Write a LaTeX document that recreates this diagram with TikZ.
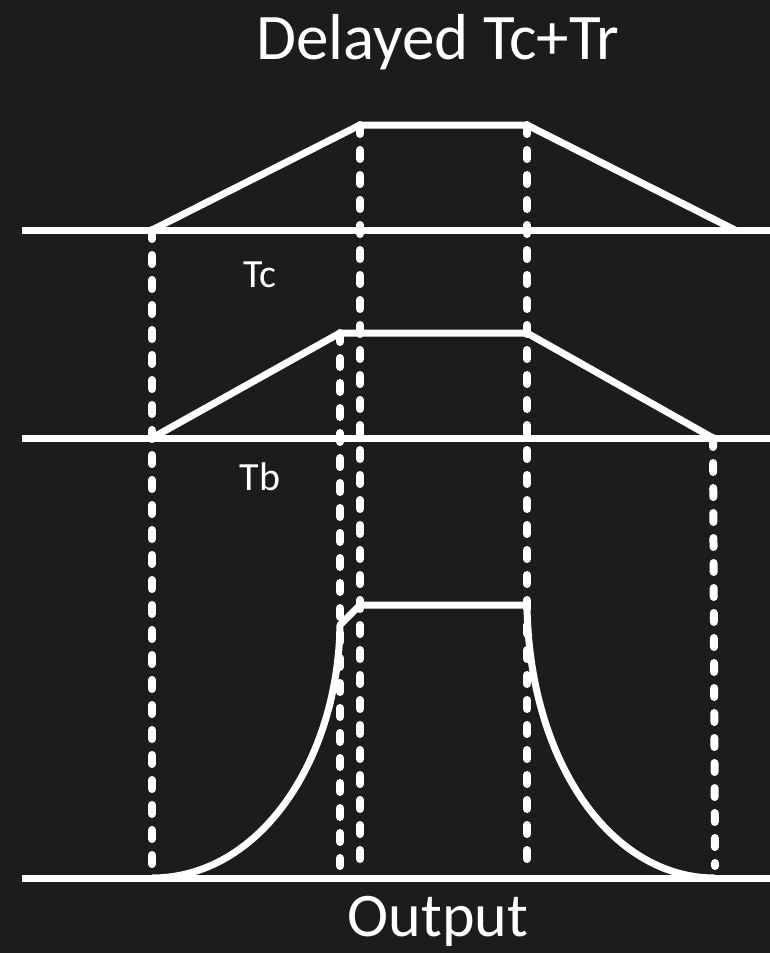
\documentclass[tikz,border=0pt]{standalone}
\usepackage{fontspec}
\setmainfont{Carlito}
\usetikzlibrary{positioning, calc}
\definecolor{chalkBoard}{RGB}{28, 28, 28}
\definecolor{chalkWhite}{RGB}{255, 255, 255}

\begin{document}
\begin{tikzpicture}[x=1pt, y=-1pt,
        axis/.style={line width=7pt, chalkWhite},
        wave/.style={line width=7pt, chalkWhite, line join=round},
        guide/.style={line width=8pt, chalkWhite, line cap=round, dash pattern=on 9pt off 16pt},
        lbl/.style={text=chalkWhite, inner sep=0pt, anchor=base}
      ]
        \fill[chalkBoard] (0,0) rectangle (770,953);
        \useasboundingbox (0,0) rectangle (770,953);

        \coordinate (topL) at (22,230);    \coordinate (topR) at (770,230);
        \coordinate (midL) at (22,438);    \coordinate (midR) at (770,438);
        \coordinate (botL) at (22,878);    \coordinate (botR) at (770,878);

        \coordinate (trStart) at (152,230); \coordinate (trUp) at (360,125);
        \coordinate (trDown) at (527,125);  \coordinate (trEnd) at (735,230);
        \coordinate (tbStart) at (152,438); \coordinate (tbUp) at (340,333);
        \coordinate (tbDown) at (527,333);  \coordinate (tbEnd) at (713,438);
        \coordinate (outStart) at (152,878); \coordinate (outKnee) at (340,625);
        \coordinate (outUp) at (360,605);    \coordinate (outDown) at (527,605);
        \coordinate (outEnd) at (715,878);

        \draw[guide] (trStart) -- (152,870);
        \draw[guide] (trUp) -- (360,872);
        \draw[guide] (trDown) -- (527,872);
        \draw[guide] (tbUp) -- (340,866);
        \draw[guide] (tbEnd) -- (715,866);

        \draw[axis] (topL) -- (topR);
        \draw[axis] (midL) -- (midR);
        \draw[axis] (botL) -- (botR);

        \draw[wave] (trStart) -- (trUp) -- (trDown) -- (trEnd);
        \draw[wave] (tbStart) -- (tbUp) -- (tbDown) -- (tbEnd);
        \draw[wave] (outStart) .. controls (260,878) and (338,760) .. (outKnee)
          -- (outUp) -- (outDown) .. controls (529,760) and (610,878) .. (outEnd);

        \node[lbl, font=\fontsize{65}{72}\selectfont] (title) at (438,59) {Delayed Tc+Tr};
        \node[lbl, font=\fontsize{40}{46}\selectfont] (tc) at (260,287) {Tc};
        \node[lbl, font=\fontsize{40}{46}\selectfont] (tb) at (260,490) {Tb};
        \node[lbl, font=\fontsize{62}{70}\selectfont] (out) at (438,936) {Output};
      \end{tikzpicture}
\end{document}
